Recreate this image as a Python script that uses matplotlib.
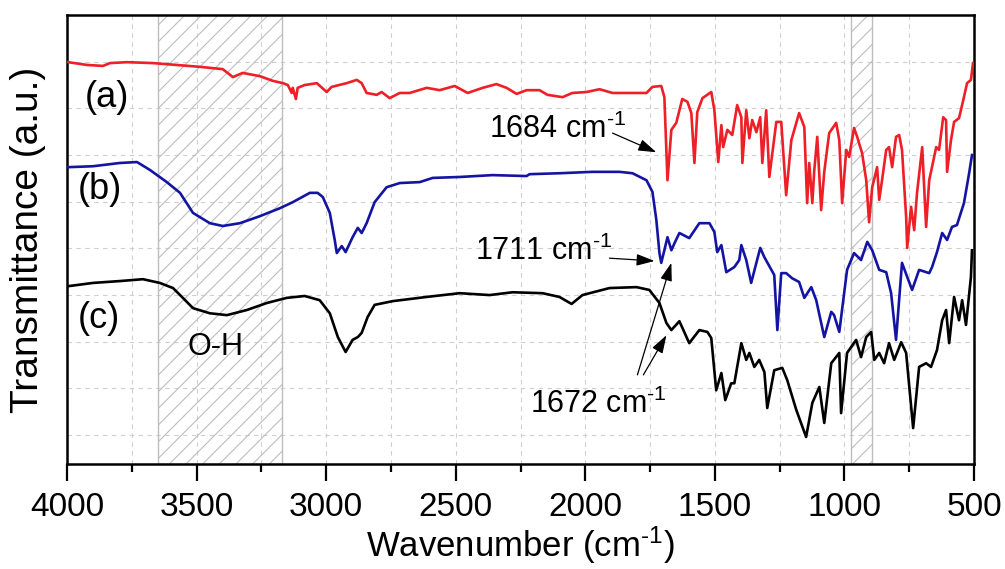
import numpy as np
import matplotlib
matplotlib.use("Agg")
import matplotlib.pyplot as plt

plt.rcParams['font.family'] = ['Liberation Sans', 'DejaVu Sans']
plt.rcParams['mathtext.fontset'] = 'custom'
plt.rcParams['mathtext.rm'] = 'Liberation Sans'
plt.rcParams['mathtext.it'] = 'Liberation Sans:italic'
plt.rcParams['mathtext.default'] = 'regular'
plt.rcParams['hatch.linewidth'] = 0.8

# spectre (a) - rouge
wn_a = [3996, 3923, 3861, 3834, 3769, 3668, 3576, 3487, 3399, 3360,
        3322, 3256, 3206, 3167, 3148, 3133, 3129, 3117, 3110, 3083,
        3036, 2998, 2979, 2921, 2882, 2863, 2844, 2805, 2786, 2755,
        2716, 2678, 2612, 2562, 2504, 2454, 2396, 2343, 2304, 2265,
        2227, 2177, 2146, 2088, 2050, 1996, 1945, 1895, 1818, 1764,
        1741, 1707, 1695, 1683, 1668, 1649, 1626, 1606, 1591, 1579,
        1568, 1548, 1514, 1502, 1487, 1475, 1468, 1452, 1433, 1414,
        1398, 1394, 1379, 1367, 1356, 1340, 1325, 1317, 1302, 1290,
        1263, 1244, 1225, 1205, 1186, 1175, 1155, 1144, 1136, 1124,
        1117, 1105, 1090, 1078, 1059, 1032, 1020, 1009, 993, 982,
        963, 951, 932, 916, 905, 893, 874, 866, 855, 839,
        828, 816, 801, 789, 778, 762, 758, 743, 731, 720,
        700, 685, 673, 646, 635, 619, 608, 604, 589, 577,
        558, 539, 527, 512, 504]
T_a = [79.9, 79.3, 79.1, 79.7, 79.9, 79.7, 79.3, 78.9, 78.4, 76.7,
       77.6, 76.9, 75.9, 75.4, 75.0, 73.3, 74.4, 72.0, 74.4, 75.0,
       75.4, 73.5, 74.6, 75.4, 76.1, 75.4, 73.3, 72.9, 73.5, 72.2,
       73.3, 73.3, 74.4, 73.9, 74.8, 73.3, 74.4, 75.2, 74.4, 73.1,
       73.9, 73.9, 72.9, 72.4, 73.3, 73.5, 74.1, 73.3, 73.3, 73.3,
       74.6, 74.8, 72.4, 54.6, 65.4, 66.9, 72.0, 71.4, 69.0, 58.3,
       69.2, 72.2, 73.5, 69.6, 58.5, 66.4, 61.7, 65.4, 64.3, 70.7,
       68.1, 58.3, 69.6, 63.6, 67.5, 64.9, 68.1, 58.3, 69.6, 55.3,
       67.1, 67.1, 51.4, 63.2, 66.9, 69.0, 66.0, 49.7, 58.3, 49.7,
       56.4, 63.9, 48.2, 56.4, 64.7, 66.9, 63.2, 49.7, 61.1, 59.6,
       65.8, 63.9, 60.4, 54.6, 45.6, 53.1, 57.4, 50.4, 54.6, 61.1,
       61.7, 57.4, 63.9, 64.3, 61.1, 46.7, 40.1, 48.9, 43.9, 51.9,
       61.7, 44.6, 54.6, 61.7, 61.1, 68.1, 67.5, 56.4, 63.2, 67.1,
       67.9, 72.4, 75.4, 76.1, 79.7]

# spectre (b) - bleu
wn_b = [3996, 3900, 3796, 3730, 3680, 3615, 3564, 3514, 3449, 3399,
        3333, 3256, 3179, 3129, 3063, 3033, 3013, 2986, 2967, 2959,
        2940, 2925, 2898, 2878, 2863, 2844, 2813, 2767, 2716, 2639,
        2589, 2485, 2358, 2227, 2215, 2100, 1972, 1868, 1818, 1764,
        1741, 1726, 1714, 1707, 1695, 1683, 1668, 1656, 1637, 1599,
        1560, 1521, 1502, 1491, 1475, 1456, 1425, 1406, 1398, 1379,
        1360, 1340, 1325, 1309, 1282, 1271, 1259, 1244, 1225, 1202,
        1175, 1155, 1128, 1109, 1078, 1051, 1040, 1020, 990, 963,
        936, 912, 893, 866, 839, 820, 801, 778, 758, 739,
        712, 673, 662, 643, 623, 604, 585, 566, 539, 519,
        508]
T_b = [57.4, 57.6, 58.3, 58.5, 56.8, 54.2, 51.9, 47.6, 45.4, 44.8,
       45.4, 46.9, 48.6, 49.9, 51.9, 51.9, 51.0, 47.6, 41.8, 39.0,
       40.5, 39.2, 42.4, 44.4, 43.3, 45.4, 49.9, 53.1, 54.0, 54.2,
       55.1, 55.3, 55.7, 55.5, 55.9, 56.1, 56.4, 56.4, 56.1, 54.6,
       52.1, 46.1, 39.0, 36.9, 39.6, 42.4, 39.6, 41.1, 43.3, 42.2,
       45.4, 45.4, 43.5, 39.2, 40.7, 34.9, 36.0, 37.5, 40.7, 37.5,
       32.6, 36.9, 40.1, 38.1, 35.4, 34.3, 22.5, 34.7, 34.7, 33.6,
       32.8, 29.4, 31.7, 28.9, 21.0, 26.4, 25.7, 22.1, 35.4, 39.0,
       37.5, 41.4, 39.6, 35.4, 34.9, 30.4, 20.4, 36.9, 33.9, 31.1,
       35.4, 34.7, 36.0, 39.2, 43.3, 41.8, 44.6, 45.0, 49.7, 56.1,
       60.0]

# spectre (c) - noir
wn_c = [3996, 3900, 3796, 3707, 3642, 3591, 3553, 3514, 3449, 3383,
        3306, 3229, 3152, 3083, 3025, 2986, 2955, 2925, 2898, 2878,
        2863, 2840, 2813, 2743, 2612, 2485, 2369, 2281, 2165, 2100,
        2053, 2011, 1907, 1803, 1753, 1714, 1687, 1668, 1637, 1599,
        1560, 1529, 1514, 1495, 1475, 1460, 1437, 1425, 1398, 1379,
        1367, 1348, 1329, 1309, 1298, 1271, 1240, 1221, 1186, 1148,
        1124, 1097, 1078, 1051, 1020, 1013, 990, 955, 936, 916,
        897, 885, 866, 847, 828, 808, 781, 762, 735, 712,
        685, 666, 643, 623, 608, 596, 577, 558, 546, 531,
        512, 508]
T_c = [31.9, 32.6, 33.0, 33.4, 32.6, 31.5, 29.4, 27.2, 26.1, 25.7,
       26.8, 28.3, 29.4, 29.8, 28.9, 26.1, 21.0, 17.8, 20.4, 21.0,
       21.9, 25.3, 27.9, 28.7, 29.6, 30.4, 30.0, 30.6, 30.4, 29.6,
       28.1, 30.0, 31.5, 31.7, 31.1, 28.3, 24.0, 22.5, 24.4, 19.7,
       22.5, 22.1, 20.8, 9.6, 13.3, 7.5, 11.1, 11.1, 19.7, 16.1,
       17.6, 14.6, 16.1, 13.5, 5.8, 13.9, 14.4, 11.8, 5.4, -0.4,
       6.9, 10.3, 2.6, 15.4, 17.6, 4.7, 17.6, 20.4, 16.7, 21.0,
       22.1, 16.1, 17.6, 15.4, 19.7, 16.1, 19.9, 17.6, 1.5, 14.6,
       15.4, 14.6, 18.2, 24.6, 26.8, 19.7, 29.6, 24.6, 28.9, 23.6,
       33.9, 39.6]

# zones hachurees (cm-1)
zones = [(3650, 3170), (975, 895)]

sup = '$^{\u2010' + '1}$'  # exposant "-1" avec un tiret court

fig = plt.figure(figsize=(10.05, 5.69), dpi=100)
ax = fig.add_axes([0.0667, 0.1845, 0.9025, 0.7891])

for z in zones:
    ax.axvspan(z[0], z[1], facecolor='none', edgecolor='#bdbdbd', hatch='//', lw=1.0, zorder=1)

ax.plot(wn_a, T_a, color='#EE1F26', lw=1.9, zorder=3)
ax.plot(wn_b, T_b, color='#1414A3', lw=1.9, zorder=3)
ax.plot(wn_c, T_c, color='black', lw=1.9, zorder=3)

ax.set_xlim(4000, 500)
ax.set_ylim(-6.2, 90)
ax.set_xticks(np.arange(4000, 499, -500))
ax.set_xticks(np.arange(3750, 500, -500), minor=True)
ax.set_yticks(np.arange(0, 91, 10))
ax.set_yticklabels([])
ax.tick_params(axis='y', length=0)
ax.tick_params(axis='x', which='major', direction='out', length=12, width=1.6, labelsize=24, pad=8)
ax.tick_params(axis='x', which='minor', direction='out', length=6, width=1.6)

ax.grid(which='both', axis='x', color='#cfcfcf', linestyle=(0, (4, 4)), lw=0.8)
ax.grid(which='major', axis='y', color='#cfcfcf', linestyle=(0, (4, 4)), lw=0.8)
ax.set_axisbelow(True)
for s in ax.spines.values():
    s.set_linewidth(1.8)

ax.set_xlabel('Wavenumber (cm' + sup + ')', fontsize=25, labelpad=1)
ax.set_ylabel('Transmittance (a.u.)', fontsize=28, labelpad=12)

ax.text(3931, 70.3, '(a)', fontsize=26, ha='left', va='baseline')
ax.text(3958, 50.6, '(b)', fontsize=26, ha='left', va='baseline')
ax.text(3958, 22.9, '(c)', fontsize=26, ha='left', va='baseline')
ax.text(3534, 17.1, 'O-H', fontsize=22, ha='left', va='baseline')

ax.text(2370, 63.6, '1684 cm' + sup, fontsize=22, ha='left', va='baseline')
ax.text(2427, 37.5, '1711 cm' + sup, fontsize=22, ha='left', va='baseline')
ax.text(2215, 4.7, '1672 cm' + sup, fontsize=22, ha='left', va='baseline')

arrow = dict(arrowstyle='-|>,head_length=0.55,head_width=0.18', color='black', lw=0.9,
             mutation_scale=20, shrinkA=0, shrinkB=0)
ax.annotate('', xy=(1726, 60.6), xytext=(1895, 64.7), arrowprops=arrow, zorder=4)
ax.annotate('', xy=(1733, 37.3), xytext=(1907, 37.9), arrowprops=arrow, zorder=4)
ax.annotate('', xy=(1668, 36.9), xytext=(1799, 12.9), arrowprops=arrow, zorder=4)
ax.annotate('', xy=(1687, 21.4), xytext=(1776, 12.9), arrowprops=arrow, zorder=4)

fig.savefig('out.png', dpi=100)
